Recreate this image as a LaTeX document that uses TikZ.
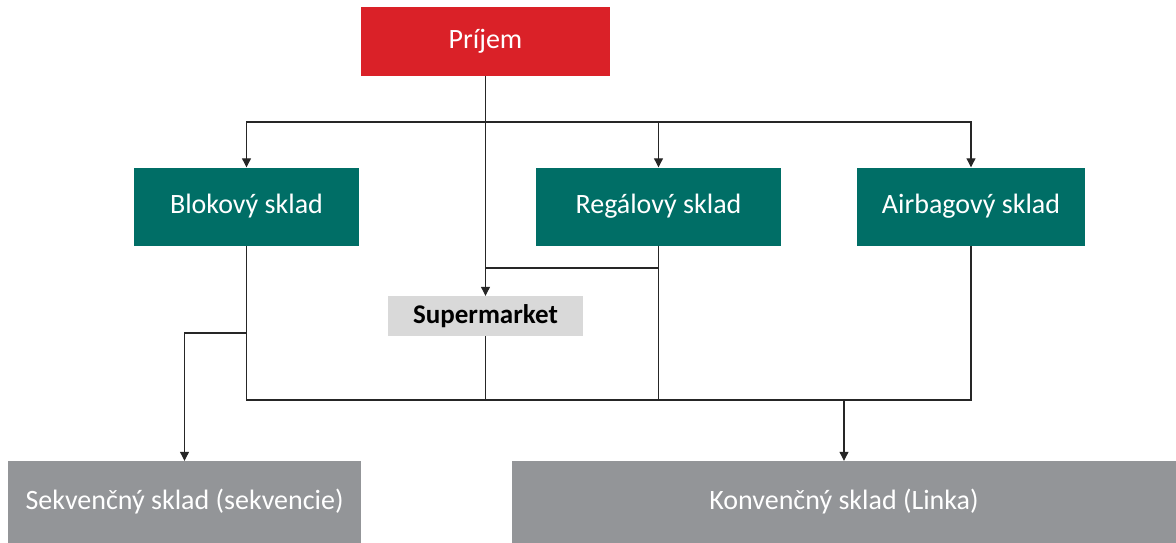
\documentclass[tikz,border=0pt]{standalone}
\usepackage{fontspec}
\setmainfont{Carlito}
\usetikzlibrary{arrows.meta,positioning}
\definecolor{prijemred}{HTML}{DA2128}
\definecolor{skladteal}{HTML}{006E66}
\definecolor{linkagray}{HTML}{939598}
\definecolor{marketgray}{HTML}{D9D9D9}

\begin{document}
\begin{tikzpicture}[x=1pt,y=-1pt,
    box/.style={rectangle, inner sep=0pt, text=white, font=\fontsize{28}{32}\selectfont},
    sklad/.style={box, fill=skladteal, minimum height=78pt},
    flow/.style={line width=1.1pt, black!85},
    arr/.style={flow, -{Triangle[length=9pt,width=9pt]}}]
    \useasboundingbox (0,0) rectangle (1176,543);

    % Source
    \node[box, fill=prijemred, minimum width=249pt, minimum height=69pt] (prijem) at (485.5,41.5) {Príjem};

    % Storages
    \node[sklad, minimum width=225pt] (blokovy) at (246.5,206.5) {Blokový sklad};
    \node[sklad, minimum width=245pt] (regalovy) at (658.5,206.5) {Regálový sklad};
    \node[sklad, minimum width=228pt] (airbag) at (971,206.5) {Airbagový sklad};
    \node[box, fill=marketgray, text=black, minimum width=195pt, minimum height=40pt,
        font=\fontsize{27}{30}\selectfont\bfseries] (supermarket) at (485.5,316) {Supermarket};

    % Targets
    \node[box, fill=linkagray, minimum width=353pt, minimum height=82pt] (sekvencny) at (184.5,502) {Sekvenčný sklad (sekvencie)};
    \node[box, fill=linkagray, minimum width=664pt, minimum height=82pt] (konvencny) at (844,502) {Konvenčný sklad (Linka)};

    % Distribution from Prijem
    \coordinate (split) at (485.5,122);
    \draw[flow] (prijem.south) -- (split);
    \draw[arr] (split) -| (blokovy.north);
    \draw[arr] (split) -| (regalovy.north);
    \draw[arr] (split) -| (airbag.north);
    \draw[arr] (split) -- (supermarket.north);
    \coordinate (merge) at (485.5,268);
    \draw[flow] (regalovy.south) |- (merge);

    % Collection to the targets
    \coordinate (collect) at (844,400);
    \draw[flow] (blokovy.south) |- (airbag.south |- collect) -- (airbag.south);
    \draw[flow] (supermarket.south) -- (supermarket.south |- collect);
    \draw[flow] (regalovy.south) -- (regalovy.south |- collect);
    \draw[arr] (collect) -- (konvencny.north);
    \coordinate (branch) at (246.5,333);
    \draw[arr] (branch) -| (sekvencny.north);
\end{tikzpicture}
\end{document}
